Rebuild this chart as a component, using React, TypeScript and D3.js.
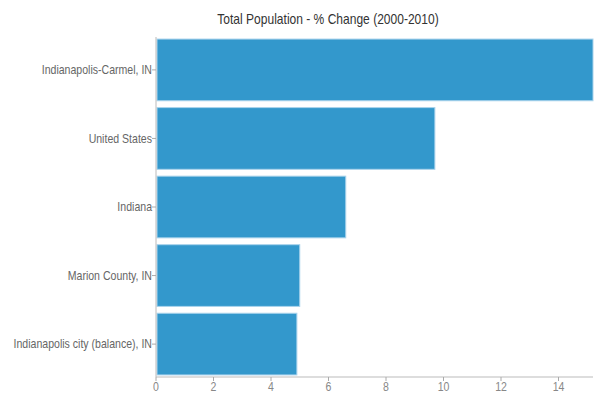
import React from "react";
import * as d3 from "d3";

const categories = [
  "Indianapolis-Carmel, IN",
  "United States",
  "Indiana",
  "Marion County, IN",
  "Indianapolis city (balance), IN",
];
const values = [15.2, 9.7, 6.6, 5.0, 4.9];
const xTicks = [0, 2, 4, 6, 8, 10, 12, 14];
const title = "Total Population - % Change (2000-2010)";

const width = 595;
const height = 399;
const margins = { top: 37, right: 2, bottom: 22, left: 156 };

// text squeezed horizontally around its anchor point (reference font is narrower)
const Label = ({ x, y, size, fill, anchor, dy, squeeze = 0.88, children }: any) => (
  <g transform={`translate(${x},${y}) scale(${squeeze},1)`}>
    <text dy={dy} textAnchor={anchor} fontSize={size} fill={fill}>
      {children}
    </text>
  </g>
);

const App = () => {
  const xScale = d3
    .scaleLinear()
    .domain([0, d3.max(values) as number])
    .range([margins.left, width - margins.right]);

  const yScale = d3
    .scaleBand()
    .domain(categories)
    .range([margins.top, height - margins.bottom])
    .paddingInner(0.1)
    .paddingOuter(0.03);

  const axisY = height - margins.bottom;
  const font = "'Liberation Sans', Arial, sans-serif";

  const bars = categories.map((name, i) => (
    <rect
      key={name}
      x={xScale(0) + 1}
      y={yScale(name)}
      width={Math.max(0, xScale(values[i]) - xScale(0) - 1)}
      height={yScale.bandwidth()}
      fill="#3398cc"
      stroke="#a9d3ec"
      strokeWidth={1}
    />
  ));

  const yLabels = categories.map((name) => {
    const cy = (yScale(name) as number) + yScale.bandwidth() / 2;
    return (
      <g key={name}>
        <line
          x1={margins.left - 4}
          x2={margins.left}
          y1={cy}
          y2={cy}
          stroke="#aaa"
        />
        <Label
          x={margins.left - 4}
          y={cy}
          dy="0.35em"
          anchor="end"
          size={12}
          fill="#666"
        >
          {name}
        </Label>
      </g>
    );
  });

  const xLabels = xTicks.map((t) => (
    <g key={t}>
      <line
        x1={xScale(t)}
        x2={xScale(t)}
        y1={axisY}
        y2={axisY + 4}
        stroke="#aaa"
      />
      <Label x={xScale(t)} y={axisY + 14} anchor="middle" size={12} fill="#888">
        {t}
      </Label>
    </g>
  ));

  return (
    <div style={{ position: "fixed", left: 0, top: 0 }}>
      <svg width={width} height={height} fontFamily={font}>
        <rect width={width} height={height} fill="#fff" />
        <Label x={328} y={23.5} anchor="middle" size={14} fill="#333" squeeze={0.86}>
          {title}
        </Label>
        <g>{bars}</g>
        <line
          x1={margins.left}
          x2={margins.left}
          y1={margins.top}
          y2={axisY}
          stroke="#bbb"
        />
        <line
          x1={margins.left}
          x2={width - margins.right}
          y1={axisY}
          y2={axisY}
          stroke="#bbb"
        />
        <g>{yLabels}</g>
        <g>{xLabels}</g>
      </svg>
    </div>
  );
};

export default App;
